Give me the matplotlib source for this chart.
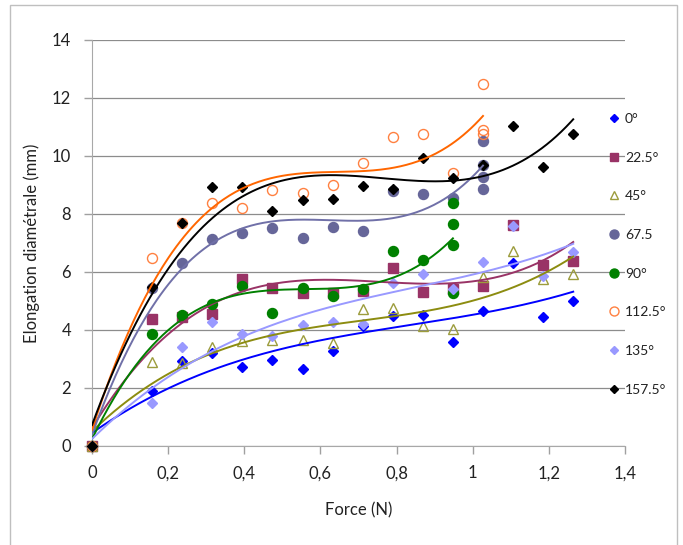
import numpy as np
import matplotlib
matplotlib.use('Agg')
import matplotlib.pyplot as plt
from matplotlib.lines import Line2D
from matplotlib.patches import Rectangle

plt.rcParams['font.family'] = ['Lato', 'DejaVu Sans']

# Force (N) values
x_base = [0, 0.158, 0.237, 0.316, 0.395, 0.474, 0.553, 0.632, 0.711, 0.790,
          0.869, 0.948, 1.027, 1.106, 1.185, 1.264]
x_67 = [0, 0.158, 0.237, 0.316, 0.395, 0.474, 0.553, 0.632, 0.711, 0.790,
        0.869, 0.948, 1.027, 1.027, 1.027, 1.027]
x_90 = [0, 0.158, 0.237, 0.316, 0.395, 0.474, 0.553, 0.632, 0.711, 0.790,
        0.869, 0.948, 0.948, 0.948, 0.948]
x_112 = [0, 0.158, 0.237, 0.316, 0.395, 0.474, 0.553, 0.632, 0.711, 0.790,
         0.869, 0.948, 1.027, 1.027, 1.027]

# Elongation diametrale (mm)
y_0 = [0, 1.90, 2.93, 3.22, 2.72, 2.97, 2.67, 3.28, 4.15, 4.48, 4.51, 3.59, 4.66, 6.30, 4.46, 5.00]
y_22 = [0, 4.37, 4.45, 4.54, 5.75, 5.46, 5.29, 5.29, 5.34, 6.15, 5.31, 5.43, 5.52, 7.61, 6.24, 6.38]
y_45 = [0, 2.90, 2.85, 3.41, 3.62, 3.64, 3.66, 3.56, 4.71, 4.77, 4.14, 4.02, 5.83, 6.72, 5.75, 5.94]
y_67 = [0, 5.45, 6.32, 7.13, 7.36, 7.53, 7.18, 7.55, 7.40, 8.80, 8.70, 8.56, 10.52, 9.68, 9.28, 8.85]
y_90 = [0, 3.87, 4.51, 4.91, 5.52, 4.57, 5.44, 5.17, 5.40, 6.72, 6.40, 8.39, 7.64, 6.93, 5.29]
y_112 = [0, 6.47, 7.70, 8.37, 8.22, 8.82, 8.74, 8.99, 9.75, 10.66, 10.75, 9.41, 12.47, 10.89, 10.77]
y_135 = [0, 1.49, 3.41, 4.29, 3.85, 3.79, 4.17, 4.29, 4.22, 5.63, 5.92, 5.43, 6.34, 7.58, 5.86, 6.69]
y_157 = [0, 5.48, 7.70, 8.93, 8.93, 8.10, 8.47, 8.51, 8.97, 8.85, 9.92, 9.25, 9.68, 11.03, 9.62, 10.75]

labels = ['0°', '22.5°', '45°', '67.5', '90°', '112.5°', '135°', '157.5°']
x_ticks = [0, 0.2, 0.4, 0.6, 0.8, 1.0, 1.2, 1.4]
x_tick_labels = ['0', '0,2', '0,4', '0,6', '0,8', '1', '1,2', '1,4']
y_ticks = [0, 2, 4, 6, 8, 10, 12, 14]

# (x, y, marker, marker face, marker edge, trendline colour, size)
series = [
    (x_base, y_0, 'D', '#0000FF', '#0000FF', '#0000FF', 5),
    (x_base, y_22, 's', '#993366', '#993366', '#993366', 6.5),
    (x_base, y_45, '^', 'none', '#9C9C3C', '#8C8C10', 7),
    (x_67, y_67, 'o', '#666699', '#666699', '#7070A8', 7.2),
    (x_90, y_90, 'o', '#008000', '#008000', '#008000', 7.2),
    (x_112, y_112, 'o', 'none', '#FF8040', '#FF6600', 7.2),
    (x_base, y_135, 'D', '#9999FF', '#9999FF', '#9999FF', 5),
    (x_base, y_157, 'D', '#000000', '#000000', '#000000', 5),
]

fig = plt.figure(figsize=(6.83, 5.45), dpi=100)
ax = fig.add_axes([92 / 683, 1 - 446 / 545, 533 / 683, 406 / 545])

# outer chart frame
fig.patches.append(Rectangle((10 / 683, -0.01), 667 / 683, 1 - 5 / 545 + 0.01,
                             transform=fig.transFigure, fill=False,
                             edgecolor='#BFBFBF', linewidth=1))

handles = []
for (xs, ys, mk, fc, ec, lc, ms), lab in zip(series, labels):
    xs = np.array(xs)
    ys = np.array(ys)
    ax.plot(xs, ys, linestyle='none', marker=mk, markersize=ms,
            markerfacecolor=fc, markeredgecolor=ec, markeredgewidth=1.0,
            clip_on=False, zorder=3)
    # polynomial trendline (order 3) like the Excel chart
    coef = np.polyfit(xs, ys, 3)
    xt = np.linspace(0, xs.max(), 200)
    ax.plot(xt, np.polyval(coef, xt), color=lc, linewidth=1.4, zorder=4)
    handles.append(Line2D([], [], linestyle='none', marker=mk, markersize=ms * 0.9,
                          markerfacecolor=fc, markeredgecolor=ec, markeredgewidth=1.0,
                          label=lab))

ax.set_xlim(0, 1.4)
ax.set_ylim(0, 14)
ax.set_xticks(x_ticks)
ax.set_xticklabels(x_tick_labels)
ax.set_yticks(y_ticks)
ax.tick_params(axis='both', labelsize=12, color='#A0A0A0', length=6, width=1,
               labelcolor='#222222')
ax.tick_params(axis='x', pad=8)
ax.tick_params(axis='y', pad=9)
ax.grid(axis='y', color='#8C8C8C', linewidth=0.9)
ax.set_axisbelow(True)
for s in ['top', 'right']:
    ax.spines[s].set_visible(False)
ax.spines['left'].set_color('#A8A8A8')
ax.spines['bottom'].set_color('#A8A8A8')

ax.set_xlabel('Force (N)', fontsize=12, color='#222222')
ax.set_ylabel('Elongation diamétrale (mm)', fontsize=12, color='#222222')
ax.xaxis.set_label_coords(0.5, -0.138)
ax.yaxis.set_label_coords(-0.098, 0.5)

fig.legend(handles=handles, loc='upper left',
           bbox_to_anchor=(607 / 683, 1 - 113 / 545), frameon=False,
           fontsize=10, labelspacing=1.92, handlelength=1.0, handletextpad=0.3,
           borderpad=0, borderaxespad=0, labelcolor='#222222')

fig.savefig('out.png', dpi=100)
